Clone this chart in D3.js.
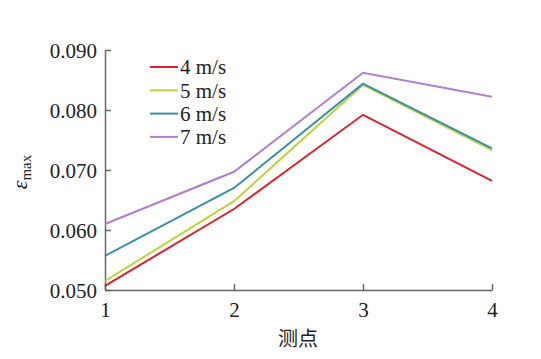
<!DOCTYPE html>
<html>
<head>
  <meta charset="utf-8">
  <script src="https://d3js.org/d3.v7.min.js"></script>
  <style>
    body { margin: 0; background: #fff; }
    svg text { fill: #222; }
  </style>
</head>
<body>
  <div id="chart"></div>
  <script>
    // data
    const points = [1, 2, 3, 4];
    const seriesNames = ["4 m/s", "5 m/s", "6 m/s", "7 m/s"];
    const v4 = [0.0507, 0.0635, 0.0792, 0.0682];
    const v5 = [0.0515, 0.0648, 0.0842, 0.0733];
    const v6 = [0.0557, 0.0670, 0.0844, 0.0736];
    const v7 = [0.0610, 0.0697, 0.0862, 0.0822];
    const yTicks = [0.05, 0.06, 0.07, 0.08, 0.09];
    const colors = ["#d8232e", "#b9d43c", "#3b8ea6", "#b07fcb"];

    const series = [v4, v5, v6, v7];
    const serif = 'Tinos, "Liberation Serif", "Noto Serif", "Nimbus Roman", FreeSerif, Times, "DejaVu Serif", serif';

    const width = 541, height = 359;
    const margin = { top: 50, right: 49, bottom: 69, left: 105 };

    const svg = d3.select("#chart").append("svg")
      .attr("width", width)
      .attr("height", height);

    const x = d3.scaleLinear().domain([1, 4]).range([margin.left, width - margin.right]);
    const y = d3.scaleLinear().domain([0.05, 0.09]).range([height - margin.bottom, margin.top]);

    // axes
    const xAxis = svg.append("g")
      .attr("transform", `translate(0,${y(0.05)})`)
      .call(d3.axisBottom(x).tickValues(points).tickFormat(d3.format("d")).tickSizeInner(-6).tickSizeOuter(0).tickPadding(12));
    const yAxis = svg.append("g")
      .attr("transform", `translate(${x(1)},0)`)
      .call(d3.axisLeft(y).tickValues(yTicks).tickFormat(d3.format(".3f")).tickSizeInner(-6).tickSizeOuter(0).tickPadding(8));

    [xAxis, yAxis].forEach(g => {
      g.attr("font-family", serif).attr("font-size", 21);
      g.select(".domain").attr("stroke", "#666").attr("stroke-width", 1.5);
      g.selectAll(".tick line").attr("stroke", "#666").attr("stroke-width", 1.5);
      g.selectAll(".tick text").attr("fill", "#222");
    });
    xAxis.selectAll(".tick text").attr("dy", "0.71em");
    yAxis.selectAll(".tick text").attr("dy", "0.35em");

    // lines
    const line = d3.line()
      .x((d, i) => x(points[i]))
      .y(d => y(d));

    svg.selectAll(".series")
      .data(series)
      .enter()
      .append("path")
      .attr("class", "series")
      .attr("d", line)
      .attr("fill", "none")
      .attr("stroke", (d, i) => colors[i])
      .attr("stroke-width", 2);

    // legend
    const legend = svg.append("g").attr("transform", "translate(150,67)");
    const items = legend.selectAll("g")
      .data(seriesNames)
      .enter()
      .append("g")
      .attr("transform", (d, i) => `translate(0,${i * 23.3})`);
    items.append("line")
      .attr("x1", 0).attr("x2", 28)
      .attr("stroke", (d, i) => colors[i])
      .attr("stroke-width", 2);
    items.append("text")
      .attr("x", 30)
      .attr("dy", "0.35em")
      .attr("font-family", serif)
      .attr("font-size", 21)
      .text(d => d);

    // axis titles
    svg.append("text")
      .attr("x", 298)
      .attr("y", 346)
      .attr("text-anchor", "middle")
      .style("font-family", "'Noto Sans CJK SC', sans-serif")
      .style("font-size", "20px")
      .text("测点");

    const yTitle = svg.append("text")
      .attr("transform", "translate(27,172) rotate(-90)")
      .attr("text-anchor", "middle")
      .attr("font-family", serif);
    yTitle.append("tspan")
      .style("font-style", "italic")
      .style("font-size", "22px")
      .text("ε");
    yTitle.append("tspan")
      .attr("dy", 4)
      .style("font-size", "15px")
      .text("max");
  </script>
</body>
</html>
